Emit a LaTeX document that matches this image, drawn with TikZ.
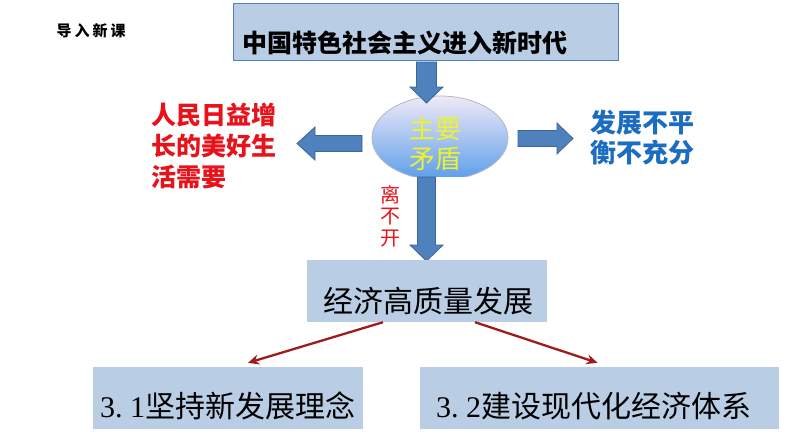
\documentclass[tikz,border=0pt]{standalone}
\usepackage{fontspec}
\newfontfamily\cjk{Noto Sans CJK SC}
\newfontfamily\numserif{Liberation Serif}
\usetikzlibrary{arrows.meta,calc,shapes.geometric}
\definecolor{boxfill}{HTML}{B9CDE5}
\definecolor{boxline}{HTML}{4F81BD}
\definecolor{arrfill}{HTML}{4F81BD}
\definecolor{arrline}{HTML}{3A6698}
\definecolor{darkred}{HTML}{A01C1C}
\definecolor{brightred}{HTML}{E8121A}
\definecolor{textblue}{HTML}{1A6DC0}
\definecolor{ylw}{HTML}{EEF22A}
\definecolor{elltop}{HTML}{F0EAF6}
\definecolor{ellbot}{HTML}{5C9DEB}
\definecolor{ellline}{HTML}{B4B8C8}
\begin{document}
\begin{tikzpicture}[x=1pt,y=-1pt,
  bluebox/.style={rectangle, fill=boxfill, inner sep=0pt},
  blockarrow/.style={fill=arrfill, draw=arrline, line width=0.8pt, line join=miter},
  redarrow/.style={draw=darkred, line width=2.3pt, -{Stealth[length=11pt,width=10pt]}},
  plain/.style={inner sep=0pt, text=black}]
\useasboundingbox[fill=white] (0,0) rectangle (794,447);

% heading
\node[plain, font={\cjk\bfseries\fontsize{15pt}{18pt}\selectfont}] (head) at (91,31) {导\hspace{3pt}入\hspace{3pt}新\hspace{3pt}课};

% top box
\node[bluebox, draw=boxline, line width=1pt, minimum width=385pt, minimum height=57pt] (top) at (425.5,31.5) {};
\node[plain, anchor=west, font={\cjk\bfseries\fontsize{25pt}{30pt}\selectfont}] (toptext) at (242,43) {中国特色社会主义进入新时代};

% ellipse "main contradiction"
\coordinate (mcc) at (440,138);
\begin{scope}
  \clip (360,90) rectangle (520,176.5);
  \shadedraw[top color=elltop, bottom color=ellbot, draw=ellline, line width=0.8pt] (mcc) ellipse [x radius=68pt, y radius=42pt];
\end{scope}
\node[ellipse, minimum width=136pt, minimum height=84pt, inner sep=0pt] (mc) at (mcc) {};
\node[plain, text=ylw, align=center, font={\cjk\fontsize{26pt}{30pt}\selectfont}] (mctext) at (435,144) {主要\\矛盾};

% block arrows
\draw[blockarrow] (416.5,62) -- (436.5,62) -- (436.5,87) -- (443,87) -- (426.5,103) -- (410,87) -- (416.5,87) -- cycle;
\draw[blockarrow] (417.5,177) -- (435.5,177) -- (435.5,245) -- (443,245) -- (426.5,261) -- (410,245) -- (417.5,245) -- cycle;
\draw[blockarrow] (362,135.5) -- (362,151.5) -- (315,151.5) -- (315,160) -- (297,143.5) -- (315,127) -- (315,135.5) -- cycle;
\draw[blockarrow] (518,130.5) -- (518,146.5) -- (557,146.5) -- (557,154) -- (573,138.5) -- (557,123) -- (557,130.5) -- cycle;

% side texts
\node[plain, text=brightred, align=left, font={\cjk\bfseries\fontsize{25pt}{31pt}\selectfont}] (need) at (213.5,146) {人民日益增\\长的美好生\\活需要};
\node[plain, text=textblue, align=left, font={\cjk\bfseries\fontsize{26pt}{30pt}\selectfont}] (gap) at (642,138) {发展不平\\衡不充分};
\node[plain, text=brightred, align=center, font={\cjk\fontsize{20pt}{21.5pt}\selectfont}] (lbk) at (390,216) {离\\不\\开};

% economy box
\node[bluebox, minimum width=240pt, minimum height=62pt] (econ) at (427,291) {};
\node[plain, font={\cjk\fontsize{30pt}{34pt}\selectfont}] (econtext) at (428,301) {经济高质量发展};

% bottom boxes
\node[bluebox, minimum width=270pt, minimum height=62pt] (b1) at (228,398) {};
\node[plain, anchor=west, font={\cjk\fontsize{30pt}{34pt}\selectfont}] (b1text) at (100,406) {{\numserif 3\makebox[15pt][l]{.}1}坚持新发展理念};
\node[bluebox, minimum width=359pt, minimum height=62pt] (b2) at (599.5,398) {};
\node[plain, anchor=west, font={\cjk\fontsize{30pt}{34pt}\selectfont}] (b2text) at (436,406) {{\numserif 3\makebox[15pt][l]{.}2}建设现代化经济体系};

% red arrows
\draw[redarrow] ($(econ.south)+(-44,0)$) -- ($(b1.north)+(20,-4)$);
\draw[redarrow] ($(econ.south)+(48,0)$) -- ($(b2.north)+(-2,-4)$);
\end{tikzpicture}
\end{document}
